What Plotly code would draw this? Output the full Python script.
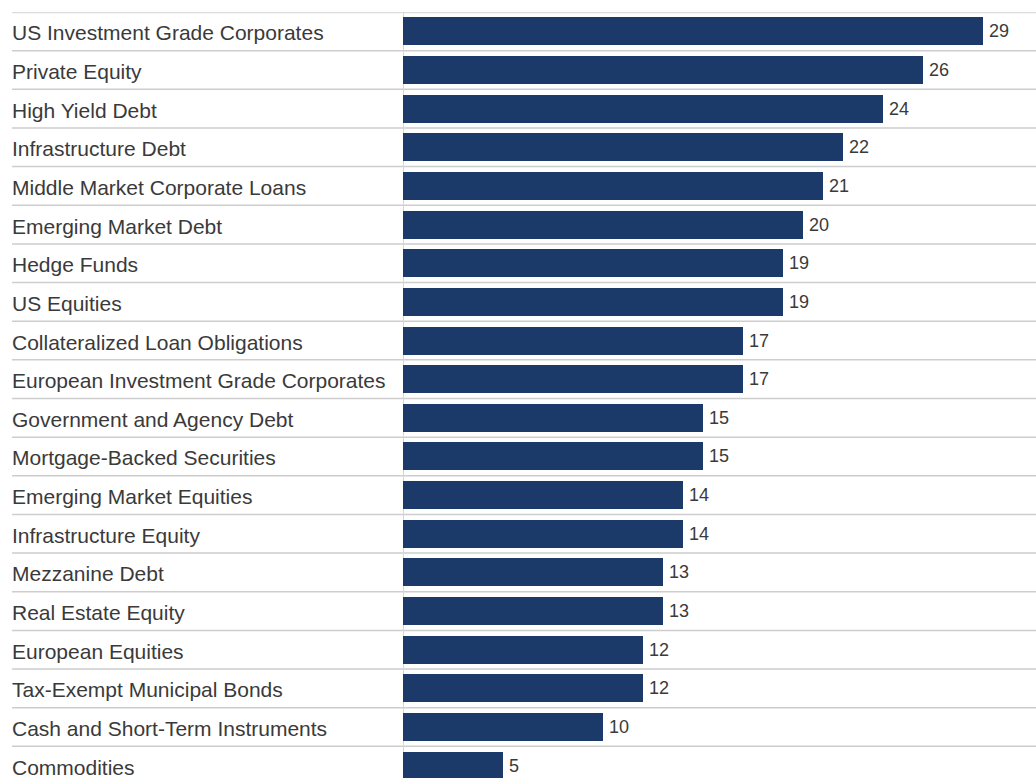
import plotly.graph_objects as go

# Asset classes and their scores, top to bottom
categories = [
    "US Investment Grade Corporates",
    "Private Equity",
    "High Yield Debt",
    "Infrastructure Debt",
    "Middle Market Corporate Loans",
    "Emerging Market Debt",
    "Hedge Funds",
    "US Equities",
    "Collateralized Loan Obligations",
    "European Investment Grade Corporates",
    "Government and Agency Debt",
    "Mortgage-Backed Securities",
    "Emerging Market Equities",
    "Infrastructure Equity",
    "Mezzanine Debt",
    "Real Estate Equity",
    "European Equities",
    "Tax-Exempt Municipal Bonds",
    "Cash and Short-Term Instruments",
    "Commodities",
]
values = [29, 26, 24, 22, 21, 20, 19, 19, 17, 17, 15, 15, 14, 14, 13, 13, 12, 12, 10, 5]

W, H = 1036, 778
BAR_COLOR = "#1b3a69"
TEXT_COLOR = "#3a3a3a"
GRID_COLOR = "#cdcdcd"
FONT = "Liberation Sans"

x0_px = 403          # left edge of bars
top_px = 12          # top of the table
line_x = 12 / W      # separators start here
label_x = 10 / W     # annotation box offset keeps text at the separator start

fig = go.Figure()
fig.add_trace(go.Bar(
    x=values,
    y=categories,
    orientation="h",
    marker=dict(color=BAR_COLOR, line=dict(width=0)),
    width=0.724,
    hoverinfo="skip",
))

# Row separators spanning labels and bars
shapes = []
for k in range(len(categories)):
    shapes.append(dict(
        type="line", xref="paper", yref="y",
        x0=line_x, x1=1, y0=k - 0.5, y1=k - 0.5,
        line=dict(color=GRID_COLOR if k else "#dcdcdc", width=1.5 if k else 2.5),
        layer="below",
    ))
# Baseline at zero
shapes.append(dict(
    type="line", xref="x", yref="paper",
    x0=0, x1=0, y0=0, y1=1,
    line=dict(color="#d6d6d6", width=2),
    layer="below",
))

annotations = []
for cat, v in zip(categories, values):
    annotations.append(dict(
        x=label_x, xref="paper", y=cat, yref="y",
        text=cat, showarrow=False, xanchor="left", yanchor="middle",
        yshift=-1.5,
        font=dict(family=FONT, size=21, color=TEXT_COLOR),
    ))
    annotations.append(dict(
        x=v, xref="x", y=cat, yref="y",
        text=str(v), showarrow=False, xanchor="left", yanchor="middle",
        xshift=4,
        font=dict(family=FONT, size=18, color=TEXT_COLOR),
    ))

x_domain_start = x0_px / W
x_range_max = (W - x0_px) / 20.0
plot_h = H - top_px
rows_visible = plot_h / 38.65

fig.update_layout(
    width=W, height=H,
    margin=dict(l=0, r=0, t=top_px, b=0, pad=0),
    paper_bgcolor="white", plot_bgcolor="white",
    showlegend=False,
    shapes=shapes,
    annotations=annotations,
    xaxis=dict(
        domain=[x_domain_start, 1], range=[0, x_range_max],
        showgrid=False, zeroline=False, showticklabels=False, showline=False,
        fixedrange=True,
    ),
    yaxis=dict(
        type="category", categoryorder="array", categoryarray=categories,
        range=[rows_visible - 0.5, -0.5],
        showgrid=False, zeroline=False, showticklabels=False, showline=False,
        fixedrange=True,
    ),
    bargap=0,
)

fig.write_html("out.html", config={"displayModeBar": False})
